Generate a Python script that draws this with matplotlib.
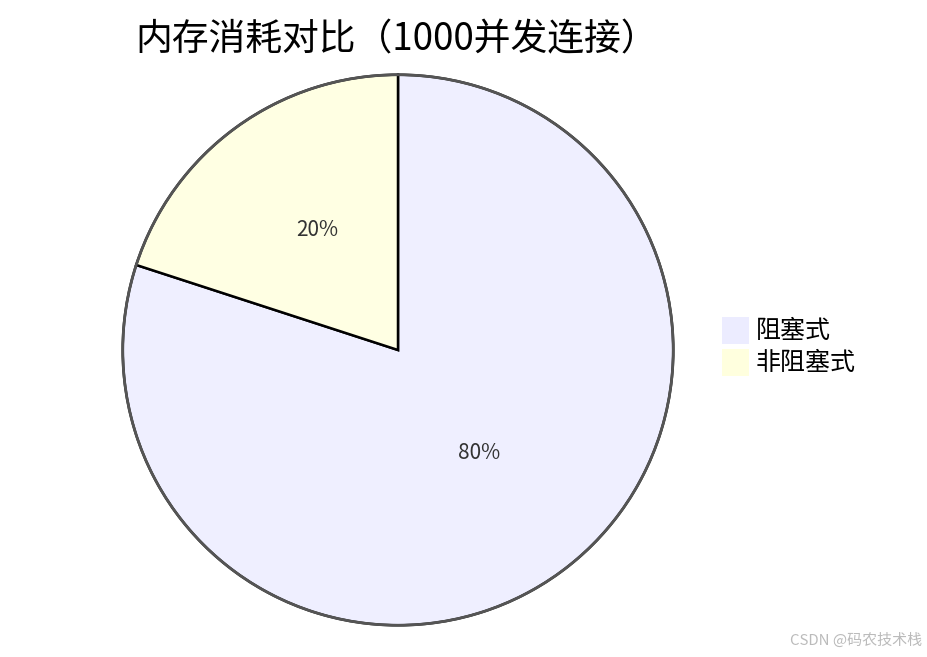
import matplotlib
matplotlib.use('Agg')
import matplotlib.pyplot as plt
from matplotlib.patches import Rectangle

plt.rcParams['font.family'] = ['Noto Sans CJK SC', 'DejaVu Sans']

# data
labels = ['阻塞式', '非阻塞式']
values = [80, 20]
colors = ['#EFEFFF', '#FFFFE3']
legend_colors = ['#ECECFF', '#FFFFDE']
title = '内存消耗对比（1000并发连接）'

W, H = 927, 657
fig = plt.figure(figsize=(W / 100, H / 100), dpi=100)

cx, cy, r = 398, 350, 278
ax = fig.add_axes([(cx - r) / W, (H - cy - r) / H, 2 * r / W, 2 * r / H])
wedges, texts, autotexts = ax.pie(values, colors=colors, startangle=90, counterclock=False,
                                  autopct='%1.0f%%', pctdistance=0.5,
                                  wedgeprops=dict(edgecolor='black', linewidth=1.8),
                                  textprops=dict(fontsize=15, color='#333333'))
# nudge labels up a little, like the original
for t in autotexts:
    x, y = t.get_position()
    t.set_position((x, y + 0.03))
# outer ring in gray
circ = plt.Circle((0, 0), 1, fill=False, edgecolor='#555555', linewidth=2)
ax.add_patch(circ)
ax.set_xlim(-1.01, 1.01)
ax.set_ylim(-1.01, 1.01)
ax.set_aspect('equal')
ax.axis('off')

fig.text(135 / W, 1 - 40 / H, title, fontsize=26.5, ha='left', va='center', color='black')

# legend
sq = 27
for i, (lab, c) in enumerate(zip(labels, legend_colors)):
    top = 317 + i * 32
    fig.patches.append(Rectangle((722 / W, 1 - (top + sq) / H), sq / W, sq / H,
                                 transform=fig.transFigure, facecolor=c, edgecolor='none'))
    fig.text(756 / W, 1 - (top + sq / 2) / H, lab, fontsize=18, ha='left', va='center', color='black')

fig.text(922 / W, 1 - 640 / H, 'CSDN @码农技术栈', fontsize=10.8, ha='right', va='center', color='#BBBBBB')

fig.savefig('out.png', dpi=100)
